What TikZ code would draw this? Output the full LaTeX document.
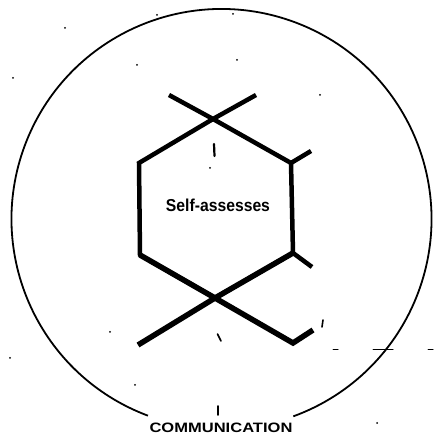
\documentclass[tikz,border=0pt]{standalone}
\usepackage{fontspec}
\setmainfont{Liberation Sans}
\usepackage{graphicx}
\begin{document}
\begin{tikzpicture}[x=1pt,y=1pt,
  hexline/.style={line width=4.5pt,line join=miter,line cap=butt},
  hexthick/.style={line width=5.5pt,line join=miter,line cap=butt},
  ring/.style={line width=1.8pt},
  speck/.style={line width=1.6pt,line cap=round},
  label/.style={inner sep=0pt,font=\bfseries}]
\useasboundingbox (0,0) rectangle (436,435);
\fill[white] (0,0) rectangle (436,435);
% circle centre
\coordinate (C) at (221.5,216);
% circle, open at the bottom where the label sits
\draw[ring] (C) ++(249.5:210pt) arc[start angle=249.5,end angle=-70,radius=210pt];
% hexagon vertices and ends
\coordinate (T)   at (213,316);
\coordinate (TL)  at (169,340);
\coordinate (TR)  at (256,340);
\coordinate (UL)  at (139,272);
\coordinate (LL)  at (140,180);
\coordinate (B)   at (215,137);
\coordinate (LR)  at (293,182);
\coordinate (UR)  at (291,272);
\coordinate (URe) at (311,284);
\coordinate (LRe) at (312,168);
\coordinate (BL)  at (138,90);
\coordinate (BRc) at (293,92);
\coordinate (BRe) at (313,105);
\draw[hexline] (TR) -- (T) -- (UL) -- (LL) -- (B);
\draw[hexline] (TL) -- (T) -- (UR) -- (LR) -- (B);
\draw[hexthick] (LR) -- (B) -- (BL);
\draw[hexthick] (LL) -- (B) -- (BRc) -- (BRe);
\draw[hexline] (UR) -- (URe);
\draw[hexline] (LR) -- (LRe);
% labels
\node[label] (self) at (218,230) {\resizebox{104pt}{12.5pt}{Self-assesses}};
\node[label] (comm) at (221,7.5) {\resizebox{143pt}{9.5pt}{COMMUNICATION}};
% small marks
\coordinate (m1a) at (214,291); \coordinate (m1b) at (214.5,279);
\draw[speck,line width=2.2pt] (m1a) -- (m1b);
\coordinate (m2) at (210,267);
\fill (m2) circle (1pt);
\coordinate (m3a) at (217.5,101); \coordinate (m3b) at (221,94);
\draw[speck] (m3a) -- (m3b);
\coordinate (m4a) at (323,115); \coordinate (m4b) at (322,108);
\draw[speck] (m4a) -- (m4b);
\coordinate (m5a) at (218,29); \coordinate (m5b) at (218,20);
\draw[speck] (m5a) -- (m5b);
\coordinate (d1a) at (333,85); \coordinate (d1b) at (338,85);
\coordinate (d2a) at (373,85); \coordinate (d2b) at (393,85);
\coordinate (d3a) at (428,85); \coordinate (d3b) at (433,85);
\draw[speck,line width=1pt] (d1a) -- (d1b) (d2a) -- (d2b) (d3a) -- (d3b);
\foreach \p in {(65,407),(157,420),(137,370),(237,375),(320,340),(13,357),(110,103),(10,77),(135,50),(377,12),(233,421)}
  \fill \p circle (1pt);
\end{tikzpicture}
\end{document}
